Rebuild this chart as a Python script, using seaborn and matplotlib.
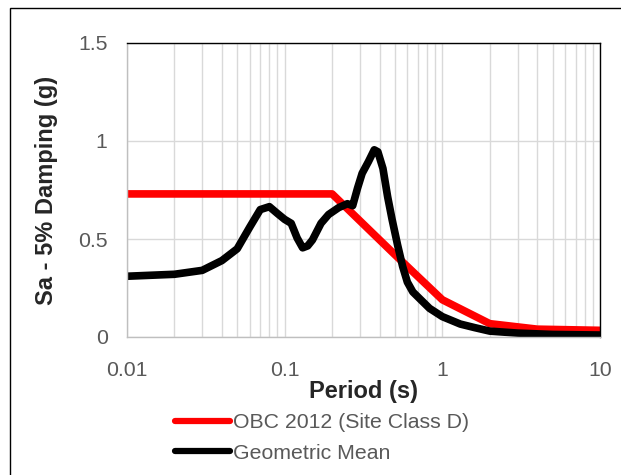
import matplotlib
matplotlib.use("Agg")
import matplotlib.pyplot as plt
from matplotlib.patches import Rectangle
from matplotlib.ticker import FixedLocator, LogLocator, NullFormatter
import seaborn as sns
import pandas as pd

# Design spectrum (OBC 2012, Site Class D)
obc_period = [0.01, 0.2, 0.5, 1.0, 2.0, 4.0, 10.0]
obc_sa = [0.73, 0.73, 0.42, 0.19, 0.068, 0.04, 0.034]

# Geometric mean spectrum of the records
gm_period = [0.01, 0.02, 0.03, 0.04, 0.05, 0.06, 0.07, 0.08, 0.09, 0.10,
             0.11, 0.12, 0.13, 0.14, 0.15, 0.17, 0.19, 0.22, 0.25, 0.27,
             0.29, 0.31, 0.34, 0.37, 0.39, 0.42, 0.45, 0.48, 0.52, 0.56,
             0.60, 0.65, 0.73, 0.83, 1.0, 1.3, 1.6, 2.0, 3.0, 5.0, 10.0]
gm_sa = [0.31, 0.32, 0.34, 0.39, 0.45, 0.56, 0.65, 0.665, 0.63, 0.60,
         0.58, 0.505, 0.455, 0.465, 0.495, 0.58, 0.625, 0.66, 0.68, 0.67,
         0.76, 0.835, 0.895, 0.955, 0.945, 0.86, 0.715, 0.60, 0.47, 0.36,
         0.28, 0.23, 0.19, 0.146, 0.104, 0.066, 0.048, 0.03, 0.02, 0.013, 0.01]

series_names = ["OBC 2012 (Site Class D)", "Geometric Mean"]
series_colors = ["#ff0000", "#000000"]
x_ticks = [0.01, 0.1, 1, 10]
x_tick_labels = ["0.01", "0.1", "1", "10"]
y_ticks = [0, 0.5, 1, 1.5]
y_tick_labels = ["0", "0.5", "1", "1.5"]

sns.set_style("white")
plt.rcParams["font.family"] = ["Liberation Sans", "DejaVu Sans"]

fig = plt.figure(figsize=(6.21, 4.75), dpi=100)
ax = fig.add_axes([127 / 621, 1 - 337 / 475, 473 / 621, 294 / 475])

df_obc = pd.DataFrame({"period": obc_period, "sa": obc_sa})
df_gm = pd.DataFrame({"period": gm_period, "sa": gm_sa})

line_kw = dict(linewidth=5.5, solid_joinstyle="round", solid_capstyle="butt")
sns.lineplot(data=df_obc, x="period", y="sa", ax=ax, color=series_colors[0],
             label=series_names[0], sort=False, **line_kw)
sns.lineplot(data=df_gm, x="period", y="sa", ax=ax, color=series_colors[1],
             label=series_names[1], sort=False, **line_kw)

ax.set_xscale("log")
ax.set_xlim(0.01, 10)
ax.set_ylim(0, 1.5)
ax.xaxis.set_major_locator(FixedLocator(x_ticks))
ax.set_xticklabels(x_tick_labels)
ax.xaxis.set_minor_locator(LogLocator(base=10, subs=range(2, 10), numticks=20))
ax.xaxis.set_minor_formatter(NullFormatter())
ax.set_yticks(y_ticks)
ax.set_yticklabels(y_tick_labels)

grid_color = "#d9d9d9"
ax.grid(True, which="major", axis="both", color=grid_color, linewidth=1.0)
ax.grid(True, which="minor", axis="x", color=grid_color, linewidth=1.0)
ax.set_axisbelow(True)

ax.tick_params(axis="both", which="both", length=0, labelsize=15.3,
               labelcolor="#595959")
ax.tick_params(axis="x", pad=17)
ax.tick_params(axis="y", pad=14)

for side in ["top", "right"]:
    ax.spines[side].set_color("#000000")
    ax.spines[side].set_linewidth(1.0)
for side in ["left", "bottom"]:
    ax.spines[side].set_color("#bfbfbf")
    ax.spines[side].set_linewidth(1.0)

ax.set_xlabel("Period (s)", fontsize=17, fontweight="bold", labelpad=0)
ax.set_ylabel("Sa - 5% Damping (g)", fontsize=17, fontweight="bold",
              labelpad=14)

handles, labels = ax.get_legend_handles_labels()
ax.get_legend().remove()
leg = fig.legend(handles, labels, loc="upper left",
                 bbox_to_anchor=(175 / 621, 1 - 413 / 475),
                 frameon=False, fontsize=15.3, handlelength=2.6,
                 handletextpad=0.15, labelspacing=0.55,
                 borderpad=0, borderaxespad=0)
for text in leg.get_texts():
    text.set_color("#595959")
for line in leg.get_lines():
    line.set_linewidth(4.5)
    line.set_solid_capstyle("round")

# chart-area border
fig.patches.append(Rectangle((10 / 621, -0.1), 1.2, 1 - 8 / 475 + 0.1,
                             transform=fig.transFigure, fill=False,
                             edgecolor="#000000", linewidth=1.0))

fig.savefig("out.png", dpi=100)
